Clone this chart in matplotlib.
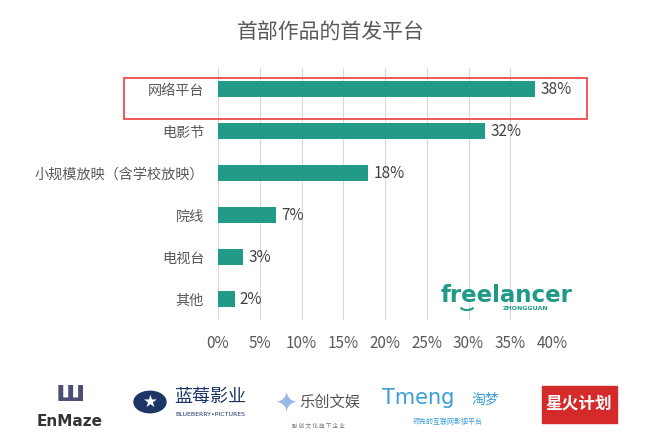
import numpy as np
import matplotlib
matplotlib.use('Agg')
import matplotlib.pyplot as plt
from matplotlib.patches import Rectangle, Circle, Arc

plt.rcParams['font.family'] = ['Noto Sans CJK SC', 'DejaVu Sans']

# data
categories = ['网络平台', '电影节', '小规模放映（含学校放映）', '院线', '电视台', '其他']
values = [38, 32, 18, 7, 3, 2]
xticks = [0, 5, 10, 15, 20, 25, 30, 35, 40]
title = '首部作品的首发平台'

BAR = '#229a88'
GRAY = '#595959'

fig = plt.figure(figsize=(6.62, 4.43), dpi=100)
ax = fig.add_axes([218 / 662, 1 - 320 / 443, (552 - 218) / 662, (320 - 68) / 443])

y = np.arange(len(categories))
ax.barh(y, values, height=0.38, color=BAR, zorder=3)
for yi, v in zip(y, values):
    ax.text(v + 0.6, yi, f'{v}%', va='center', ha='left', fontsize=11, color='#404040')

ax.set_xlim(0, 40)
ax.set_ylim(len(categories) - 0.5, -0.5)
ax.set_yticks(y)
ax.set_yticklabels(categories, fontsize=10.2, color=GRAY)
ax.set_xticks(xticks)
ax.set_xticklabels([f'{t}%' for t in xticks], fontsize=11, color=GRAY)
ax.tick_params(axis='x', length=0, pad=11)
ax.tick_params(axis='y', length=0, pad=10)
ax.grid(axis='x', color='#d9d9d9', linewidth=0.8, zorder=0)
for s in ax.spines.values():
    s.set_visible(False)

fig.text(0.5, 1 - 32 / 443, title, ha='center', va='center', fontsize=15, color=GRAY)

# red highlight box
fig.patches.append(Rectangle((124 / 662, 1 - 119 / 443), (587 - 124) / 662, 41 / 443,
                             transform=fig.transFigure, fill=False, edgecolor='#f04a4a',
                             linewidth=1.3))

# freelancer logo
fig.text(507 / 662, 1 - 296 / 443, 'freelancer', ha='center', va='center',
         fontsize=16.5, fontweight='bold', color='#1f9a86', family='DejaVu Sans')
fig.text(526 / 662, 1 - 309 / 443, 'ZHONGGUAN', ha='center', va='center',
         fontsize=4.5, fontweight='bold', color='#1f9a86', family='DejaVu Sans')
fig.patches.append(Arc((467 / 662, 1 - 306 / 443), 14 / 662, 8 / 443, theta1=200, theta2=340,
                       transform=fig.transFigure, color='#1f9a86', linewidth=1.5))

# bottom logos (approximations)
fig.text(70 / 662, 1 - 421 / 443, 'EnMaze', ha='center', va='center', fontsize=11,
         fontweight='bold', color='#333333', family='DejaVu Sans')
fig.text(70 / 662, 1 - 393 / 443, 'ш', ha='center', va='center', fontsize=20,
         fontweight='bold', color='#4a4f73', family='DejaVu Sans')
fig.patches.append(Circle((150 / 662, 1 - 402 / 443), 16 / 662, transform=fig.transFigure,
                          color='#1c3565'))
fig.text(150 / 662, 1 - 402 / 443, '★', ha='center', va='center', fontsize=12, color='white',
         family='DejaVu Sans')
fig.text(210 / 662, 1 - 397 / 443, '蓝莓影业', ha='center', va='center', fontsize=13,
         color='#1c3565')
fig.text(210 / 662, 1 - 415 / 443, 'BLUEBERRY•PICTURES', ha='center', va='center', fontsize=4.5,
         color='#1c3565', family='DejaVu Sans')
fig.text(286 / 662, 1 - 403 / 443, '✦', ha='center', va='center', fontsize=20, color='#9ab8e8',
         family='DejaVu Sans')
fig.text(330 / 662, 1 - 402 / 443, '乐创文娱', ha='center', va='center', fontsize=11,
         color='#555555')
fig.text(318 / 662, 1 - 425 / 443, '融 创 文 化 旗 下 企 业', ha='center', va='center', fontsize=4,
         color='#777777')
fig.text(418 / 662, 1 - 398 / 443, 'Tmeng', ha='center', va='center', fontsize=15,
         color='#3a9fd8', family='DejaVu Sans')
fig.text(485 / 662, 1 - 400 / 443, '淘梦', ha='center', va='center', fontsize=10,
         color='#3a9fd8')
fig.text(448 / 662, 1 - 422 / 443, '领先的互联网影视平台', ha='center', va='center', fontsize=5,
         color='#3a9fd8')
fig.patches.append(Rectangle((542 / 662, 1 - 423 / 443), 75 / 662, 37 / 443,
                             transform=fig.transFigure, color='#d42a2a'))
fig.text(579 / 662, 1 - 403 / 443, '星火计划', ha='center', va='center', fontsize=12,
         fontweight='bold', color='white')

fig.savefig('out.png', dpi=100)
